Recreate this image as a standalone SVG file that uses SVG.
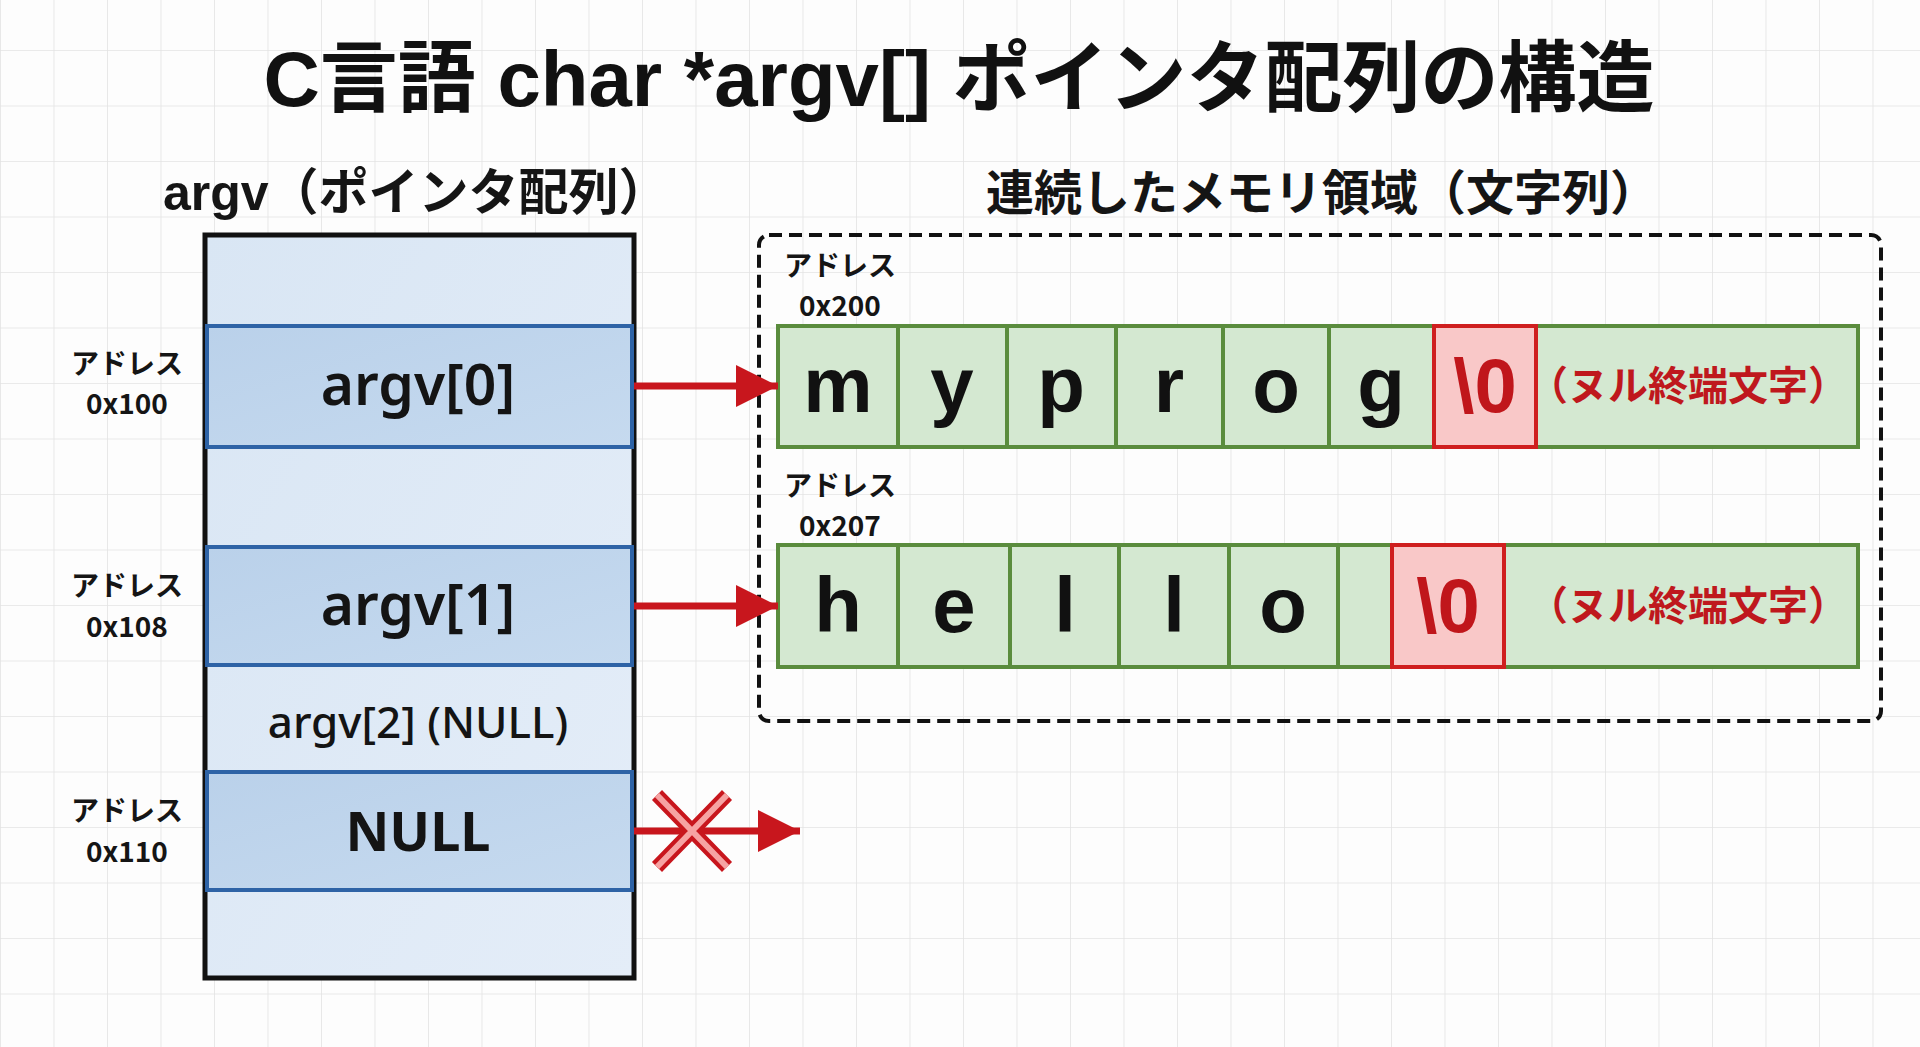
<svg xmlns="http://www.w3.org/2000/svg" width="1920" height="1047" viewBox="0 0 1920 1047">
  <defs>
    <pattern id="grid" x="0" y="-5.5" width="53.5" height="55.5" patternUnits="userSpaceOnUse">
      <path d="M0 0 H53.5 M0 0 V55.5" fill="none" stroke="#e3e3e3" stroke-width="1.6"/>
    </pattern>
    <linearGradient id="lightBlue" x1="0" y1="0" x2="1" y2="1">
      <stop offset="0" stop-color="#d9e6f4"/>
      <stop offset="1" stop-color="#e4edf8"/>
    </linearGradient>
    <linearGradient id="midBlue" x1="0" y1="0" x2="1" y2="1">
      <stop offset="0" stop-color="#bad1ea"/>
      <stop offset="1" stop-color="#c6daef"/>
    </linearGradient>
    <marker id="arrowHead" viewBox="0 0 10 10" refX="10" refY="5" markerWidth="6" markerHeight="6" markerUnits="strokeWidth" orient="auto">
      <path d="M0 0 L10 5 L0 10 Z" fill="#c8161d"/>
    </marker>
    <style>
      .title { font-family: "Liberation Sans", "Noto Sans CJK JP", sans-serif; font-weight: 700; fill: #111; }
      .heading { font-family: "Liberation Sans", "Noto Sans CJK JP", sans-serif; font-weight: 700; fill: #151515; }
      .addr { font-family: "Noto Sans CJK JP", sans-serif; font-weight: 700; font-size: 28px; fill: #151515; text-anchor: middle; }
      .slot { font-family: "Noto Sans", "DejaVu Sans", sans-serif; fill: #141414; text-anchor: middle; }
      .cell { font-family: "Liberation Sans", sans-serif; font-weight: 700; font-size: 78px; fill: #111; text-anchor: middle; }
      .nul { font-family: "Liberation Sans", sans-serif; font-weight: 700; font-size: 76px; fill: #c0161b; text-anchor: middle; }
      .nulnote { font-family: "Noto Sans CJK JP", sans-serif; font-weight: 700; font-size: 40px; fill: #bf181d; text-anchor: middle; }
      .green { fill: #d4e8d1; stroke: #5a8c3d; stroke-width: 4; }
      .div { stroke: #5a8c3d; stroke-width: 4; }
      .red { fill: #f9c8c8; stroke: #cf1f1f; stroke-width: 4; }
      .hl { fill: url(#midBlue); stroke: #2e63a6; stroke-width: 4; }
      .conn { stroke: #c8161d; stroke-width: 7; fill: none; }
    </style>
  </defs>

  <rect x="0" y="0" width="1920" height="1047" fill="#fdfdfd"/>
  <rect x="0" y="0" width="1920" height="1047" fill="url(#grid)"/>

  <g id="title">
    <text class="title" x="959" y="106" font-size="78" text-anchor="middle">C言語 char *argv[] ポインタ配列の構造</text>
  </g>

  <g id="heading-argv">
    <text class="heading" x="163" y="210" font-size="50">argv（ポインタ配列）</text>
  </g>
  <g id="heading-memory">
    <text class="heading" x="986" y="210" font-size="48">連続したメモリ領域（文字列）</text>
  </g>

  <g id="argv-array">
    <rect x="205" y="235" width="429" height="743" fill="url(#lightBlue)" stroke="#111" stroke-width="5"/>
    <g id="argv0">
      <rect class="hl" x="207" y="326" width="425" height="121"/>
      <text class="slot" x="418" y="405" font-size="57" font-weight="600">argv[0]</text>
    </g>
    <g id="argv1">
      <rect class="hl" x="207" y="547" width="425" height="118"/>
      <text class="slot" x="418" y="625" font-size="57" font-weight="600">argv[1]</text>
    </g>
    <g id="argv2">
      <text class="slot" x="418" y="738" font-size="44" font-weight="500">argv[2] (NULL)</text>
    </g>
    <g id="null-slot">
      <rect class="hl" x="207" y="772" width="425" height="118"/>
      <text class="slot" x="418" y="851" font-size="54" font-weight="700">NULL</text>
    </g>
  </g>

  <g id="addr-labels-left">
    <text class="addr" x="127" y="374">アドレス</text>
    <text class="addr" x="127" y="414">0x100</text>
    <text class="addr" x="127" y="596">アドレス</text>
    <text class="addr" x="127" y="637">0x108</text>
    <text class="addr" x="127" y="821">アドレス</text>
    <text class="addr" x="127" y="862">0x110</text>
  </g>

  <g id="memory-region">
    <rect x="759" y="235" width="1122" height="486" rx="10" fill="none" stroke="#111" stroke-width="4" stroke-dasharray="13 7"/>
  </g>

  <g id="string-myprog">
    <text class="addr" x="840" y="276">アドレス</text>
    <text class="addr" x="840" y="316">0x200</text>
    <rect class="green" x="778" y="326" width="1080" height="121"/>
    <line class="div" x1="898" y1="326" x2="898" y2="447"/>
    <line class="div" x1="1007" y1="326" x2="1007" y2="447"/>
    <line class="div" x1="1116" y1="326" x2="1116" y2="447"/>
    <line class="div" x1="1223" y1="326" x2="1223" y2="447"/>
    <line class="div" x1="1329" y1="326" x2="1329" y2="447"/>
    <rect class="red" x="1434" y="326" width="102" height="121"/>
    <text class="cell" x="838" y="412">m</text>
    <text class="cell" x="952" y="412">y</text>
    <text class="cell" x="1061" y="412">p</text>
    <text class="cell" x="1169" y="412">r</text>
    <text class="cell" x="1276" y="412">o</text>
    <text class="cell" x="1381" y="412">g</text>
    <text class="nul" x="1485" y="412">\0</text>
    <text class="nulnote" x="1688" y="400">（ヌル終端文字）</text>
  </g>

  <g id="string-hello">
    <text class="addr" x="840" y="496">アドレス</text>
    <text class="addr" x="840" y="536">0x207</text>
    <rect class="green" x="778" y="545" width="1080" height="122"/>
    <line class="div" x1="898" y1="545" x2="898" y2="667"/>
    <line class="div" x1="1010" y1="545" x2="1010" y2="667"/>
    <line class="div" x1="1119" y1="545" x2="1119" y2="667"/>
    <line class="div" x1="1229" y1="545" x2="1229" y2="667"/>
    <line class="div" x1="1338" y1="545" x2="1338" y2="667"/>
    <rect class="red" x="1392" y="545" width="112" height="122"/>
    <text class="cell" x="838" y="632">h</text>
    <text class="cell" x="954" y="632">e</text>
    <text class="cell" x="1065" y="632">l</text>
    <text class="cell" x="1174" y="632">l</text>
    <text class="cell" x="1283" y="632">o</text>
    <text class="nul" x="1448" y="632">\0</text>
    <text class="nulnote" x="1688" y="620">（ヌル終端文字）</text>
  </g>

  <g id="connectors">
    <line class="conn" x1="634" y1="386" x2="778" y2="386" marker-end="url(#arrowHead)"/>
    <line class="conn" x1="634" y1="606" x2="778" y2="606" marker-end="url(#arrowHead)"/>
    <line class="conn" x1="634" y1="831" x2="800" y2="831" marker-end="url(#arrowHead)"/>
    <g id="null-cross">
      <path d="M657 795 L727 867 M727 795 L657 867" stroke="#c8161d" stroke-width="14" stroke-linecap="butt" fill="none"/>
      <path d="M657 795 L727 867 M727 795 L657 867" stroke="#f6a3a3" stroke-width="6" stroke-linecap="butt" fill="none"/>
    </g>
  </g>
</svg>
